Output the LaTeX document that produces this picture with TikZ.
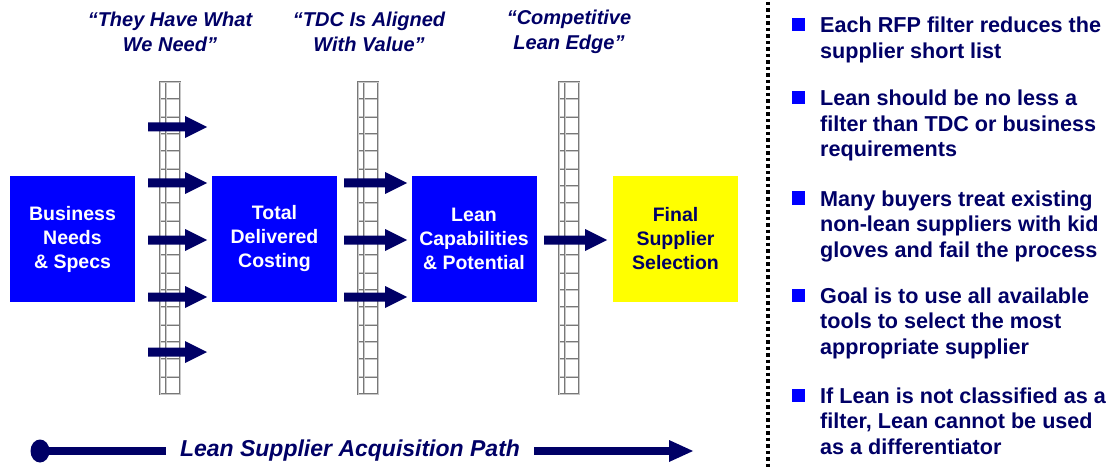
\documentclass[tikz,border=0pt]{standalone}
\usepackage{fontspec}
\setmainfont{Liberation Sans}
\usetikzlibrary{shapes.geometric}
\definecolor{navy}{RGB}{0,0,102}
\definecolor{pblue}{RGB}{0,0,255}
\definecolor{pyellow}{RGB}{255,255,0}
\definecolor{gridgray}{RGB}{120,120,120}
\definecolor{gridlight}{RGB}{200,200,200}
\tikzset{
  gridline/.style={draw=gridgray, line width=0.7pt, double=gridlight, double distance=0.7pt},
  box/.style={minimum width=125pt, minimum height=126pt, inner sep=0pt, align=center,
    font=\fontsize{19.5}{24}\selectfont\bfseries},
  filterbar/.style={gridline, fill=white, minimum width=20pt,
    minimum height=312pt, inner sep=0pt,
    path picture={
      \foreach \i in {1,...,17}
        \draw[gridline]
          ([yshift=-\i*17.333pt]path picture bounding box.north west) --
          ([yshift=-\i*17.333pt]path picture bounding box.north east);
      \draw[gridline]
          ([xshift=6pt]path picture bounding box.north west) --
          ([xshift=6pt]path picture bounding box.south west);
    }},
  quote/.style={text=navy, align=center, inner sep=0pt,
    font=\fontsize{20}{25}\selectfont\bfseries\itshape},
  bullettext/.style={text=navy, align=left, inner sep=0pt, anchor=base west,
    font=\fontsize{21.6}{25.5}\selectfont\bfseries},
  bulletsq/.style={fill=pblue},
  pics/barrow/.style 2 args={code={
    \fill[navy] (0,-4.5) -- (#1,-4.5) -- (#1,-11) -- (#2,0) -- (#1,11) -- (#1,4.5) -- (0,4.5) -- cycle;}},
  pathline/.style={navy, line width=8pt},
}
\begin{document}
\begin{tikzpicture}[x=1pt, y=-1pt]
\useasboundingbox (0,0) rectangle (1117,468);

% quotes
\node[quote] (q1) at (170,32) {“They Have What\\We Need”};
\node[quote] (q2) at (369,32) {“TDC Is Aligned\\With Value”};
\node[quote] (q3) at (569,32) {“Competitive\\Lean Edge”};

% filters
\node[filterbar] (f1) at (170,238) {};
\node[filterbar] (f2) at (368,238) {};
\node[filterbar] (f3) at (569,238) {};

% boxes
\node[box, fill=pblue, text=white] (b1) at (72.5,239) {Business\\Needs\\\& Specs};
\node[box, fill=pblue, text=white] (b2) at (274.5,239) {Total\\Delivered\\Costing};
\node[box, fill=pblue, text=white] (b3) at (474,239) {Lean\\Capabilities\\\& Potential};
\node[box, fill=pyellow, text=navy] (b4) at (675.5,239) {Final\\Supplier\\Selection};

% block arrows through filters
\foreach \yy in {127,183,240,297,352}
  \pic at (148,\yy) {barrow={37}{59}};
\foreach \yy in {183,240,297}
  \pic at (344,\yy) {barrow={41}{63}};
\pic at (544,240) {barrow={41}{63}};

% bottom path
\coordinate (pstart) at (40,451);
\fill[navy] (pstart) ellipse (9.5 and 11.5);
\node[text=navy, inner sep=0pt, font=\fontsize{23}{27}\selectfont\bfseries\itshape]
  (lsap) at (350,451) {Lean Supplier Acquisition Path};
\coordinate (lend) at (166,451);
\coordinate (rstart) at (534,451);
\coordinate (rhead) at (670,451);
\draw[pathline] (pstart) -- (lend);
\draw[pathline] (rstart) -- (rhead);
\fill[navy] (669,440) -- (693,451) -- (669,462) -- cycle;

% dotted separator
\draw[black, line width=3.5pt, dash pattern=on 3.5pt off 3pt] (768,2) -- (768,468);

% bullets (base anchor = last line's baseline)
\fill[bulletsq] (792,18.5) rectangle (805,31.5);
\node[bullettext] (t1) at (820,58.5) {Each RFP filter reduces the\\supplier short list};
\fill[bulletsq] (792,91.5) rectangle (805,104.5);
\node[bullettext] (t2) at (820,157) {Lean should be no less a\\filter than TDC or business\\requirements};
\fill[bulletsq] (792,191.5) rectangle (805,204.5);
\node[bullettext] (t3) at (820,257) {Many buyers treat existing\\non-lean suppliers with kid\\gloves and fail the process};
\fill[bulletsq] (792,288.5) rectangle (805,301.5);
\node[bullettext] (t4) at (820,354) {Goal is to use all available\\tools to select the most\\appropriate supplier};
\fill[bulletsq] (792,388.5) rectangle (805,401.5);
\node[bullettext] (t5) at (820,454) {If Lean is not classified as a\\filter, Lean cannot be used\\as a differentiator};
\end{tikzpicture}
\end{document}
